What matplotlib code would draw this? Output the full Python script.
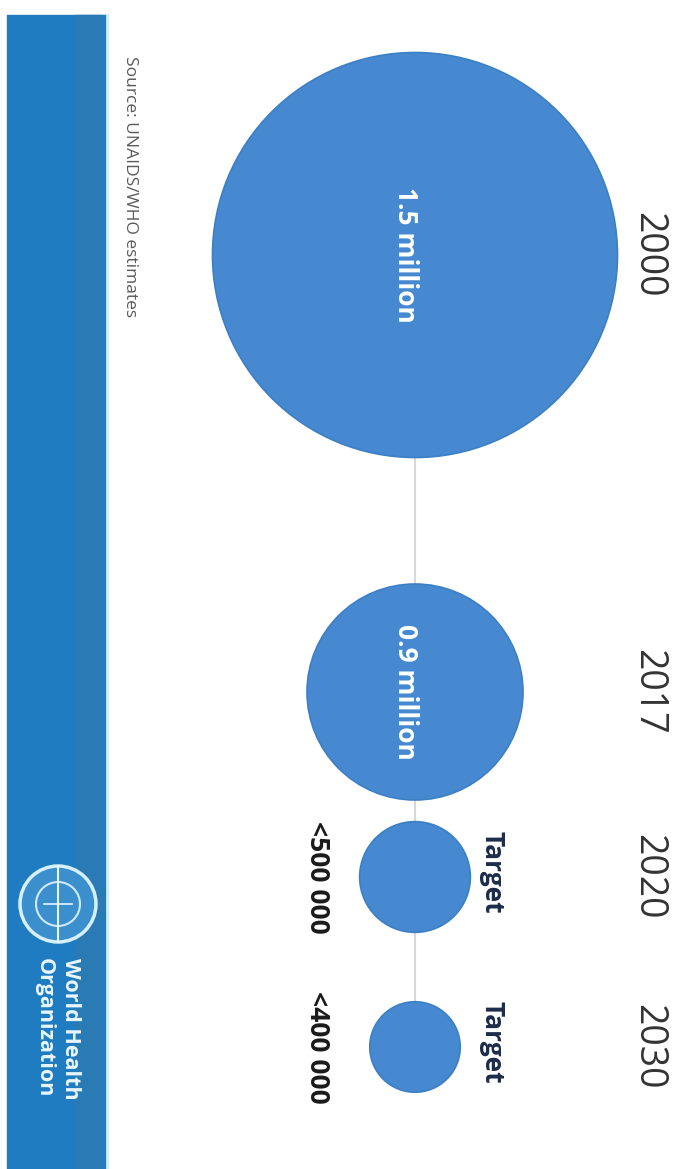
import matplotlib
matplotlib.use("Agg")
import matplotlib.pyplot as plt
from matplotlib.patches import Circle, Rectangle

# ---- data ----
years = ["2000", "2017", "2020", "2030"]
circle_labels = ["1.5 million", "0.9 million", "", ""]
target_flags = ["", "", "Target", "Target"]
target_values = ["", "", "<500 000", "<400 000"]
bubble_size = [1.5, 0.8, 0.41, 0.335]   # displayed bubble magnitude (millions)
source_text = "Source: UNAIDS/WHO estimates"
org_lines = ["World Health", "Organization"]

# ---- layout (pixel space of the rotated page) ----
W, H = 683, 1169
axis_x = 415
centers_y = [255, 692, 877, 1047]
px_per_unit = 135.0
year_x = 648
target_x = 492
value_x = 318

plt.rcParams['font.family'] = ['Open Sans', 'DejaVu Sans']

fig = plt.figure(figsize=(W / 100, H / 100), dpi=100)
ax = fig.add_axes([0, 0, 1, 1])
ax.set_xlim(0, W)
ax.set_ylim(H, 0)
ax.axis('off')

# left strip
ax.add_patch(Rectangle((7, 15), 100, H - 15, color='#1f7cc0', zorder=1))
ax.add_patch(Rectangle((75, 15), 27, H - 15, color='#2a7bb4', zorder=1))
ax.plot([107, 107], [15, H], color='#cfeefc', lw=2, zorder=2)

# source
ax.text(130, 56, source_text, rotation=-90, ha='center', va='top',
        fontsize=12.5, color='#5a5a5a', zorder=3)

# WHO emblem + name
ax.add_patch(Circle((58, 904), 38, facecolor='#3a8fcc', edgecolor='#d7f0ff',
                    lw=2.5, zorder=3))
ax.add_patch(Circle((58, 904), 22, facecolor='none', edgecolor='#cfeaff',
                    lw=1.5, zorder=3))
ax.plot([58, 58], [866, 942], color='#e6f6ff', lw=1.5, zorder=4)
ax.plot([44, 72], [904, 904], color='#e6f6ff', lw=1.2, zorder=4)
for i, line in enumerate(org_lines):
    ax.text(70 - 26 * i, 958, line, rotation=-90, ha='center', va='top',
            fontsize=15.5, fontweight='bold', color='#e8f6ff', zorder=3)

# connecting line
ax.plot([axis_x, axis_x], [centers_y[0], centers_y[-1]], color='#d6d6dc',
        lw=1.5, zorder=4)

# bubbles
for cy, s in zip(centers_y, bubble_size):
    ax.add_patch(Circle((axis_x, cy), s * px_per_unit, facecolor='#4689d0',
                        edgecolor='#3d7fc4', lw=1.2, zorder=5))

for cy, yr, lab, tf, tv in zip(centers_y, years, circle_labels,
                               target_flags, target_values):
    ax.text(year_x, cy, yr, rotation=-90, ha='center', va='center',
            fontsize=27, color='#333333', zorder=6)
    if lab:
        ax.text(405, cy, lab, rotation=-90, ha='center', va='center',
                fontsize=19, fontweight='bold', color='white', zorder=6)
    if tf:
        ax.text(target_x, cy - 5, tf, rotation=-90, ha='center', va='center',
                fontsize=19, fontweight='bold', color='#1c2b4a', zorder=6)
    if tv:
        ax.text(value_x, cy, tv, rotation=-90, ha='center', va='center',
                fontsize=19, fontweight='bold', color='#1a1a1a', zorder=6)

fig.savefig("out.png", dpi=100, facecolor='white')
